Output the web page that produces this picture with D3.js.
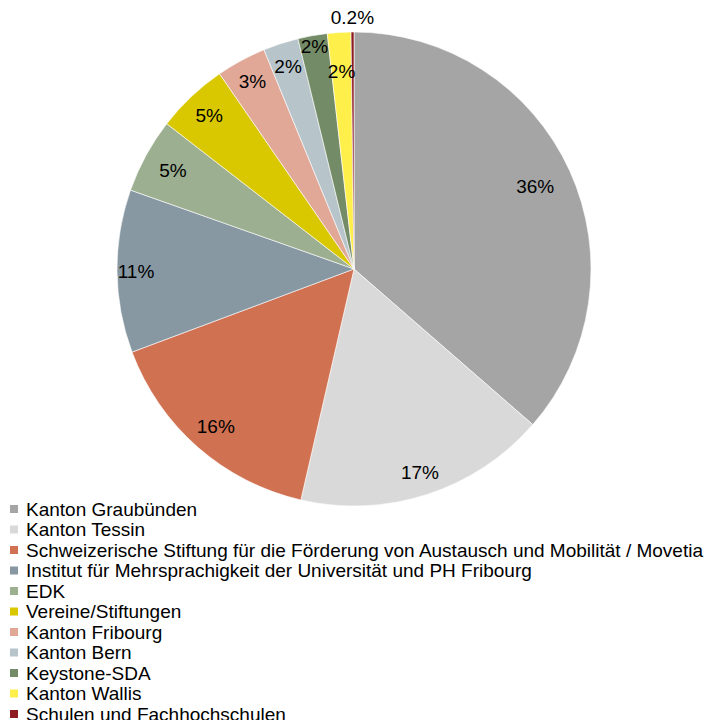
<!DOCTYPE html>
<html>
<head>
<meta charset="utf-8">
<script src="https://cdn.jsdelivr.net/npm/d3@7"></script>
<style>
  html, body { margin: 0; padding: 0; background: #fff; overflow: hidden; }
  svg { display: block; font-family: "Liberation Sans", Arial, sans-serif; }
</style>
</head>
<body>
<svg id="chart" width="709" height="720"></svg>
<script>
// Funding sources, clockwise from 12 o'clock
const categories = [
  'Kanton Graubünden',
  'Kanton Tessin',
  'Schweizerische Stiftung für die Förderung von Austausch und Mobilität / Movetia',
  'Institut für Mehrsprachigkeit der Universität und PH Fribourg',
  'EDK',
  'Vereine/Stiftungen',
  'Kanton Fribourg',
  'Kanton Bern',
  'Keystone-SDA',
  'Kanton Wallis',
  'Schulen und Fachhochschulen'
];
const shares = [36.4, 17.2, 15.7, 11.1, 5.1, 4.9, 3.4, 2.4, 2.0, 1.6, 0.2];
const colors = [
  '#A5A5A5', '#D9D9D9', '#D07152', '#8798A3', '#9CAF91', '#D9C800',
  '#E1A898', '#B7C4CA', '#738B66', '#FFEF4A', '#8E1B22'
];
// label distance from centre, as a fraction of the radius (Excel "best fit")
const labelRadius = [0.84, 0.9, 0.885, 0.92, 0.87, 0.89, 0.9, 0.9, 0.955, 0.835, 1.06];

const W = 709, H = 720;
const cx = 354, cy = 269, R = 237;
const FS = 19;

const svg = d3.select('#chart');
const fmt = v => v < 1 ? d3.format('.1f')(v) + '%' : Math.round(v) + '%';

const pie = d3.pie().sort(null).value(d => d.v);
const arcs = pie(shares.map((v, i) => ({ v, i })));
const arc = d3.arc().innerRadius(0).outerRadius(R);

const g = svg.append('g').attr('transform', `translate(${cx},${cy})`);

g.selectAll('path.slice')
  .data(arcs)
  .join('path')
  .attr('class', 'slice')
  .attr('d', arc)
  .attr('fill', d => colors[d.data.i])
  .attr('stroke', '#fff')
  .attr('stroke-width', 0.6);

g.selectAll('text.lbl')
  .data(arcs)
  .join('text')
  .attr('class', 'lbl')
  .attr('transform', d => {
    const a = (d.startAngle + d.endAngle) / 2;
    const r = R * labelRadius[d.data.i];
    return `translate(${Math.sin(a) * r},${-Math.cos(a) * r})`;
  })
  .attr('text-anchor', 'middle')
  .attr('dy', '0.35em')
  .attr('font-size', FS)
  .attr('fill', '#000')
  .text(d => fmt(d.data.v));

// legend
const legend = svg.append('g').attr('transform', 'translate(10,509)');
const row = legend.selectAll('g')
  .data(categories)
  .join('g')
  .attr('transform', (d, i) => `translate(0,${i * 20.5})`);

row.append('rect')
  .attr('x', 0).attr('y', -4)
  .attr('width', 8).attr('height', 8)
  .attr('fill', (d, i) => colors[i]);

row.append('text')
  .attr('x', 16)
  .attr('dy', '0.35em')
  .attr('font-size', FS)
  .attr('fill', '#000')
  .text(d => d);
</script>
</body>
</html>
